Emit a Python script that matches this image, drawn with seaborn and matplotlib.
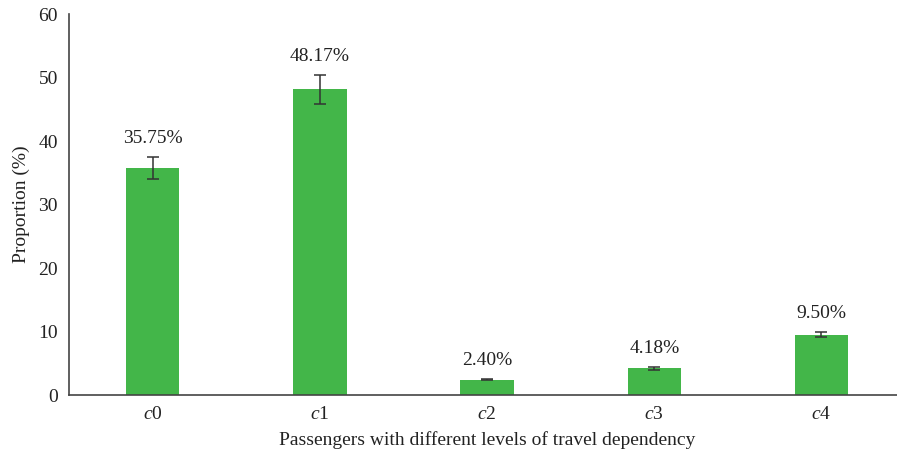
import matplotlib
matplotlib.use("Agg")
import matplotlib.pyplot as plt
import seaborn as sns
import pandas as pd

categories = ["$c$0", "$c$1", "$c$2", "$c$3", "$c$4"]
proportions = [35.75, 48.17, 2.40, 4.18, 9.50]
errors = [1.8, 2.3, 0.1, 0.2, 0.4]
value_labels = ["35.75%", "48.17%", "2.40%", "4.18%", "9.50%"]

sns.set_theme(style="white")
plt.rcParams["font.family"] = ["Liberation Serif", "DejaVu Serif"]
plt.rcParams["mathtext.fontset"] = "custom"
plt.rcParams["mathtext.rm"] = "Liberation Serif"
plt.rcParams["mathtext.it"] = "Liberation Serif:italic"

df = pd.DataFrame({"cat": categories, "val": proportions})

fig = plt.figure(figsize=(8.97, 4.53), dpi=100)
ax = fig.add_axes([0.077, 0.128, 0.932, 0.841])

sns.barplot(data=df, x="cat", y="val", color="#43B649", saturation=1,
            width=0.32, errorbar=None, linewidth=0, ax=ax)
xs = list(range(len(categories)))
ax.errorbar(xs, proportions, yerr=errors, fmt="none", ecolor="#333333",
            elinewidth=1.1, capsize=4.5, capthick=1.1)

for x, v, e, lab in zip(xs, proportions, errors, value_labels):
    ax.annotate(lab, (x, v + e), xytext=(0, 7), textcoords="offset points",
                ha="center", va="bottom", fontsize=14, color="#222222")

ax.set_ylim(0, 60)
ax.set_xlim(-0.5, 4.5)
ax.set_yticks(range(0, 61, 10))
ax.set_ylabel("Proportion (%)", fontsize=14, color="#222222", labelpad=6)
ax.set_xlabel("Passengers with different levels of travel dependency",
              fontsize=14, color="#222222", labelpad=6)
ax.tick_params(axis="both", length=0, labelsize=14, colors="#222222", pad=8)
for s in ["top", "right"]:
    ax.spines[s].set_visible(False)
for s in ["left", "bottom"]:
    ax.spines[s].set_color("#444444")
    ax.spines[s].set_linewidth(1.2)

fig.savefig("out.png", dpi=100)
